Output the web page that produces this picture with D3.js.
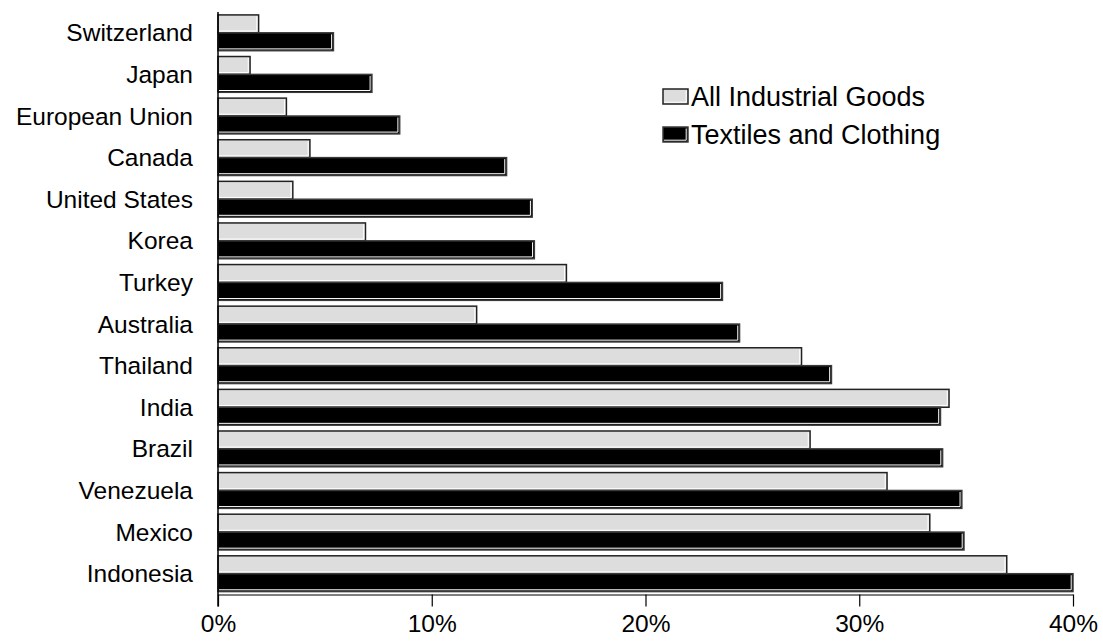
<!DOCTYPE html>
<html>
<head>
<meta charset="utf-8">
<script src="https://cdn.jsdelivr.net/npm/d3@7/dist/d3.min.js"></script>
<style>
  html, body { margin: 0; padding: 0; background: #fff; }
  svg { display: block; font-family: "Liberation Sans", Arial, sans-serif; }
</style>
</head>
<body>
<svg id="chart" width="1103" height="641"></svg>
<script>
// Tariff rates by economy, percent
const countries = ["Switzerland", "Japan", "European Union", "Canada", "United States", "Korea",
  "Turkey", "Australia", "Thailand", "India", "Brazil", "Venezuela", "Mexico", "Indonesia"];
const industrialGoods = [1.9, 1.5, 3.2, 4.3, 3.5, 6.9, 16.3, 12.1, 27.3, 34.2, 27.7, 31.3, 33.3, 36.9];
const textilesClothing = [5.4, 7.2, 8.5, 13.5, 14.7, 14.8, 23.6, 24.4, 28.7, 33.8, 33.9, 34.8, 34.9, 40.0];
const seriesNames = ["All Industrial Goods", "Textiles and Clothing"];
const tickValues = [0, 10, 20, 30, 40];

const svg = d3.select("#chart");
const plotLeft = 218, plotRight = 1073, plotTop = 12, plotBottom = 594.5;

const x = d3.scaleLinear().domain([0, 40]).range([plotLeft, plotRight]);
const y = d3.scaleBand().domain(countries).range([plotTop, plotBottom])
  .paddingInner(0.14).paddingOuter(0.07);
const sub = d3.scaleBand().domain([0, 1]).range([0, y.bandwidth()]);

const fills = ["#dddddd", "#000000"];
const strokes = ["#222222", "#3a3a3a"];

function drawBar(g, x0, y0, w, h, s) {
  g.append("rect").attr("x", x0).attr("y", y0).attr("width", w).attr("height", h)
    .attr("fill", fills[s]).attr("stroke", strokes[s]).attr("stroke-width", 1.5);
  // inner highlight on the right and bottom edges
  g.append("path")
    .attr("d", `M${x0 + w - 1.8},${y0 + 1.5} L${x0 + w - 1.8},${y0 + h - 1.8} L${x0 + 1},${y0 + h - 1.8}`)
    .attr("fill", "none").attr("stroke", "#ffffff").attr("stroke-width", 1);
}

const bars = svg.append("g");
countries.forEach((c, i) => {
  [industrialGoods[i], textilesClothing[i]].forEach((v, s) => {
    const y0 = y(c) + sub(s);
    drawBar(bars, x(0), y0, x(v) - x(0), sub.bandwidth(), s);
  });
});

// category labels
svg.append("g").selectAll("text").data(countries).join("text")
  .attr("x", 193)
  .attr("y", d => y(d) + y.bandwidth() / 2)
  .attr("dy", "0.35em")
  .attr("text-anchor", "end")
  .attr("font-size", 24.5)
  .attr("fill", "#000")
  .text(d => d);

// value axis
const xAxis = d3.axisBottom(x).tickValues(tickValues)
  .tickFormat(d => d + "%").tickSize(12).tickSizeOuter(0).tickPadding(8);
const ax = svg.append("g").attr("transform", `translate(0,${plotBottom})`).call(xAxis);
ax.select(".domain").attr("stroke", "#000").attr("stroke-width", 1.2);
ax.selectAll(".tick line").attr("stroke", "#000").attr("stroke-width", 1.2);
ax.selectAll(".tick text").attr("font-size", 24.5).attr("fill", "#000")
  .attr("font-family", "Liberation Sans, Arial, sans-serif");

// category axis line
svg.append("line").attr("x1", plotLeft).attr("x2", plotLeft).attr("y1", plotTop).attr("y2", plotBottom + 12)
  .attr("stroke", "#000").attr("stroke-width", 1.5);

// legend
const legend = svg.append("g");
seriesNames.forEach((name, s) => {
  const ly = 89 + s * 38;
  drawBar(legend, 663, ly, 25, 15, s);
  legend.append("text").attr("x", 691).attr("y", ly + 8).attr("dy", "0.35em")
    .attr("font-size", 27).attr("fill", "#000").text(name);
});
</script>
</body>
</html>
